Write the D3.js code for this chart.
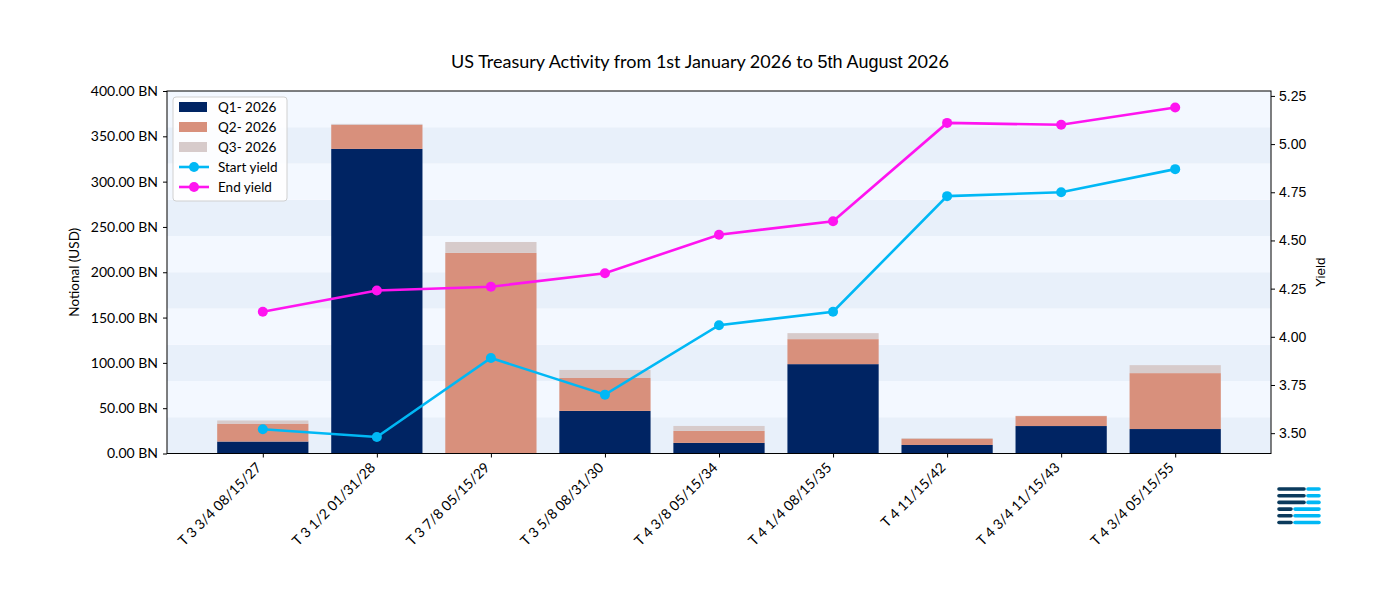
<!DOCTYPE html>
<html>
<head>
<meta charset="utf-8">
<script src="https://cdn.jsdelivr.net/npm/d3@7"></script>
<style>
  body { margin: 0; background: #fff; }
  svg text { font-family: Lato, "Noto Sans", sans-serif; fill: #000; }
</style>
</head>
<body>
<div id="canvas"></div>
<script>
const bonds = [
  'T 3 3/4 08/15/27', 'T 3 1/2 01/31/28', 'T 3 7/8 05/15/29',
  'T 3 5/8 08/31/30', 'T 4 3/8 05/15/34', 'T 4 1/4 08/15/35',
  'T 4 11/15/42', 'T 4 3/4 11/15/43', 'T 4 3/4 05/15/55',
];
const quarters = ['Q1- 2026', 'Q2- 2026', 'Q3- 2026'];
// notional in BN
const q1 = [13.2, 336.1, 0, 47.0, 11.7, 98.6, 9.4, 30.3, 27.0];
const q2 = [19.8, 26.5, 221.3, 36.3, 13.2, 27.6, 6.6, 11.0, 61.7];
const q3 = [3.4, 1.1, 12.1, 8.9, 5.5, 6.6, 1.1, 0.3, 8.8];
const startYield = [3.52, 3.48, 3.89, 3.70, 4.06, 4.13, 4.73, 4.75, 4.87];
const endYield = [4.13, 4.24, 4.26, 4.33, 4.53, 4.60, 5.11, 5.10, 5.19];
const leftTicks = [0, 50, 100, 150, 200, 250, 300, 350, 400];
const rightTicks = [3.5, 3.75, 4.0, 4.25, 4.5, 4.75, 5.0, 5.25];

const colors = ['#002463', '#d8907c', '#d7cbcb'];
const startColor = '#00b8f5';
const endColor = '#ff14f0';

const W = 1400, H = 600;
const plot = { left: 167, right: 1271, top: 91, bottom: 453.5 };

const svg = d3.select('#canvas').append('svg')
  .attr('width', W).attr('height', H);

// x: bar centres at integer positions, matplotlib-like margins
const x = d3.scaleLinear().domain([-0.84, bonds.length - 1 + 0.84])
  .range([plot.left, plot.right]);
const barW = x(0.8) - x(0);

const y = d3.scaleLinear().domain([0, 400]).range([plot.bottom, plot.top]);

const yAll = startYield.concat(endYield);
const yMin = d3.min(yAll), yMax = d3.max(yAll);
const pad = (yMax - yMin) * 0.05;
const y2 = d3.scaleLinear().domain([yMin - pad, yMax + pad])
  .range([plot.bottom, plot.top]);

// background bands every 40 BN
const bands = d3.range(0, 400, 40);
svg.append('g').selectAll('rect').data(bands).enter().append('rect')
  .attr('x', plot.left).attr('width', plot.right - plot.left)
  .attr('y', d => y(d + 40)).attr('height', d => y(d) - y(d + 40))
  .attr('fill', (d, i) => (i % 2 === 0 ? '#e8f0fa' : '#f3f8ff'));

// stacked bars
const rows = bonds.map((b, i) => ({ bond: b, i, Q1: q1[i], Q2: q2[i], Q3: q3[i] }));
const stack = d3.stack().keys(['Q1', 'Q2', 'Q3'])(rows);

svg.append('g').selectAll('g').data(stack).enter().append('g')
  .attr('fill', (d, k) => colors[k])
  .selectAll('rect').data(d => d).enter().append('rect')
  .attr('x', d => x(d.data.i) - barW / 2)
  .attr('width', barW)
  .attr('y', d => y(d[1]))
  .attr('height', d => y(d[0]) - y(d[1]));

// yield lines
const line = d3.line().x((d, i) => x(i)).y(d => y2(d));
[[startYield, startColor], [endYield, endColor]].forEach(([vals, c]) => {
  svg.append('path').attr('d', line(vals))
    .attr('fill', 'none').attr('stroke', c).attr('stroke-width', 2.6);
  svg.append('g').selectAll('circle').data(vals).enter().append('circle')
    .attr('cx', (d, i) => x(i)).attr('cy', d => y2(d))
    .attr('r', 5).attr('fill', c);
});

// frame
svg.append('rect')
  .attr('x', plot.left).attr('y', plot.top)
  .attr('width', plot.right - plot.left).attr('height', plot.bottom - plot.top)
  .attr('fill', 'none').attr('stroke', '#000').attr('stroke-width', 1);

// left axis
const leftAxis = svg.append('g')
  .attr('transform', `translate(${plot.left},0)`)
  .call(d3.axisLeft(y).tickValues(leftTicks).tickSize(4).tickPadding(5)
    .tickFormat(d => d.toFixed(2) + ' BN'));
leftAxis.select('.domain').remove();
leftAxis.selectAll('text').style('font-size', '14px');

// right axis
const rightAxis = svg.append('g')
  .attr('transform', `translate(${plot.right},0)`)
  .call(d3.axisRight(y2).tickValues(rightTicks).tickSize(4).tickPadding(4)
    .tickFormat(d3.format('.2f')));
rightAxis.select('.domain').remove();
rightAxis.selectAll('text')
  .style('font-size', '14px')
  .style('font-family', '"Liberation Sans", Arial, sans-serif');

// bottom axis
const xAxis = svg.append('g')
  .attr('transform', `translate(0,${plot.bottom})`)
  .call(d3.axisBottom(x).tickValues(d3.range(bonds.length)).tickSize(4)
    .tickFormat(i => bonds[i]));
xAxis.select('.domain').remove();
xAxis.selectAll('text')
  .style('font-size', '14px')
  .attr('text-anchor', 'end')
  .attr('dy', null)
  .attr('y', null)
  .attr('transform', 'translate(-1,15) rotate(-45)');

svg.selectAll('.tick line').attr('stroke', '#000');

// axis titles
svg.append('text')
  .attr('transform', `translate(79,${(plot.top + plot.bottom) / 2}) rotate(-90)`)
  .attr('text-anchor', 'middle')
  .style('font-size', '13.5px')
  .text('Notional (USD)');
svg.append('text')
  .attr('transform', `translate(1325,${(plot.top + plot.bottom) / 2}) rotate(-90)`)
  .attr('text-anchor', 'middle')
  .style('font-size', '13.5px')
  .style('font-family', '"Liberation Sans", Arial, sans-serif')
  .text('Yield');

// title
const title = svg.append('text')
  .attr('x', 700).attr('y', 68)
  .attr('text-anchor', 'middle')
  .style('font-size', '18px');
title.append('tspan').text('US Treasury Activity from 1st January 2026 to ');
title.append('tspan').style('font-family', '"Liberation Sans", Arial, sans-serif')
  .text('5th August');
title.append('tspan').text(' 2026');

// legend
const lg = svg.append('g').attr('transform', 'translate(173,97)');
lg.append('rect').attr('width', 114).attr('height', 104).attr('rx', 3)
  .attr('fill', 'rgba(255,255,255,0.85)').attr('stroke', '#d0d0d0');
quarters.forEach((q, k) => {
  const row = lg.append('g').attr('transform', `translate(6,${10 + k * 20})`);
  row.append('rect').attr('y', -5).attr('width', 28).attr('height', 10).attr('fill', colors[k]);
  row.append('text').attr('x', 39).attr('dy', '0.35em').style('font-size', '13.5px').text(q);
});
[['Start yield', startColor], ['End yield', endColor]].forEach(([t, c], k) => {
  const row = lg.append('g').attr('transform', `translate(6,${70 + k * 20})`);
  row.append('line').attr('x1', 0).attr('x2', 30).attr('stroke', c).attr('stroke-width', 2.6);
  row.append('circle').attr('cx', 15).attr('r', 5).attr('fill', c);
  row.append('text').attr('x', 39).attr('dy', '0.35em').style('font-size', '13.5px').text(t);
});

// logo
const logo = svg.append('g').attr('stroke-width', 3.6).attr('stroke-linecap', 'round');
[0, 1, 2, 3, 4, 5].forEach(r => {
  const yy = 489 + r * 6.7;
  const split = r < 3 ? 1304 : 1291;
  logo.append('line').attr('x1', 1279).attr('x2', split).attr('y1', yy).attr('y2', yy)
    .attr('stroke', '#0b3a5c');
  logo.append('line').attr('x1', split + 4).attr('x2', 1319).attr('y1', yy).attr('y2', yy)
    .attr('stroke', '#00b8f5');
});
</script>
</body>
</html>
